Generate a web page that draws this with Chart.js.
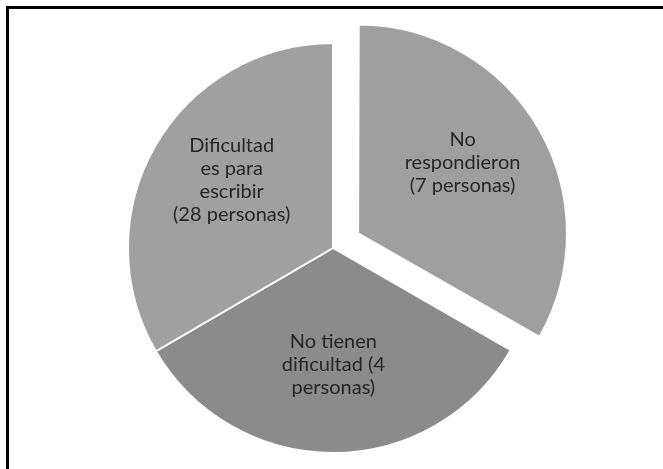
<!DOCTYPE html>
<html>
<head>
<meta charset="utf-8">
<script src="https://cdn.jsdelivr.net/npm/chart.js@4"></script>
<style>
  body { margin: 0; background: #fff; }
  .wrap { position: relative; width: 663px; height: 469px; }
  .frame { position: absolute; left: 6px; top: 6px; right: 0; bottom: 0; border-top: 3px solid #000; border-left: 3px solid #000; pointer-events: none; }
  canvas { position: absolute; left: 0; top: 0; }
</style>
</head>
<body>
<div class="wrap">
  <canvas id="pie" width="663" height="469"></canvas>
  <div class="frame"></div>
</div>
<script>
// slices clockwise from 12 o'clock, shares
const categories = ['No respondieron', 'No tienen dificultad', 'Dificultad es para escribir'];
const sliceShares = [33.3, 33.3, 33.4];
const sliceLabels = [
    ['No', 'respondieron', '(7 personas)'],
    ['No tienen', 'dificultad (4', 'personas)'],
    ['Dificultad', 'es para', 'escribir', '(28 personas)']
];
const sliceColors = ['#9f9f9f', '#8b8b8b', '#a0a0a0'];
const explode = [116, 0, 0];

// same shift the arc element applies when it draws an offset slice
function arcShift(offset, start, end) {
    const o = offset / 4;
    const fix = 1 - Math.sin(Math.min(Math.PI, end - start));
    return o + o * fix;
}

// draws the multi-line labels inside each slice
const insideLabels = {
    id: 'insideLabels',
    afterDatasetsDraw(chart) {
        const ctx = chart.ctx;
        const arcs = chart.getDatasetMeta(0).data;
        ctx.save();
        ctx.font = '20px Lato, "Open Sans", sans-serif';
        ctx.fillStyle = '#262626';
        ctx.textAlign = 'center';
        ctx.textBaseline = 'middle';
        const lh = 23;
        arcs.forEach((arc, i) => {
            const p = arc.getProps(['x', 'y', 'startAngle', 'endAngle', 'outerRadius']);
            const mid = (p.startAngle + p.endAngle) / 2;
            const r = p.outerRadius * 0.57 + arcShift(explode[i], p.startAngle, p.endAngle);
            const cx = p.x + Math.cos(mid) * r;
            const cy = p.y + Math.sin(mid) * r - (i === 1 ? 0 : 10);
            const lines = sliceLabels[i];
            const top = cy - (lines.length - 1) * lh / 2;
            lines.forEach((ln, j) => ctx.fillText(ln, cx, top + j * lh));
        });
        ctx.restore();
    }
};

new Chart(document.getElementById('pie'), {
    type: 'pie',
    data: {
        labels: categories,
        datasets: [{
            data: sliceShares,
            backgroundColor: sliceColors,
            borderColor: '#ffffff',
            borderWidth: 2,
            offset: explode
        }]
    },
    options: {
        responsive: false,
        animation: false,
        radius: 205,
        layout: { padding: { top: 27, left: 3, right: 0, bottom: 0 } },
        plugins: {
            legend: { display: false },
            tooltip: { enabled: false }
        }
    },
    plugins: [insideLabels]
});
</script>
</body>
</html>
